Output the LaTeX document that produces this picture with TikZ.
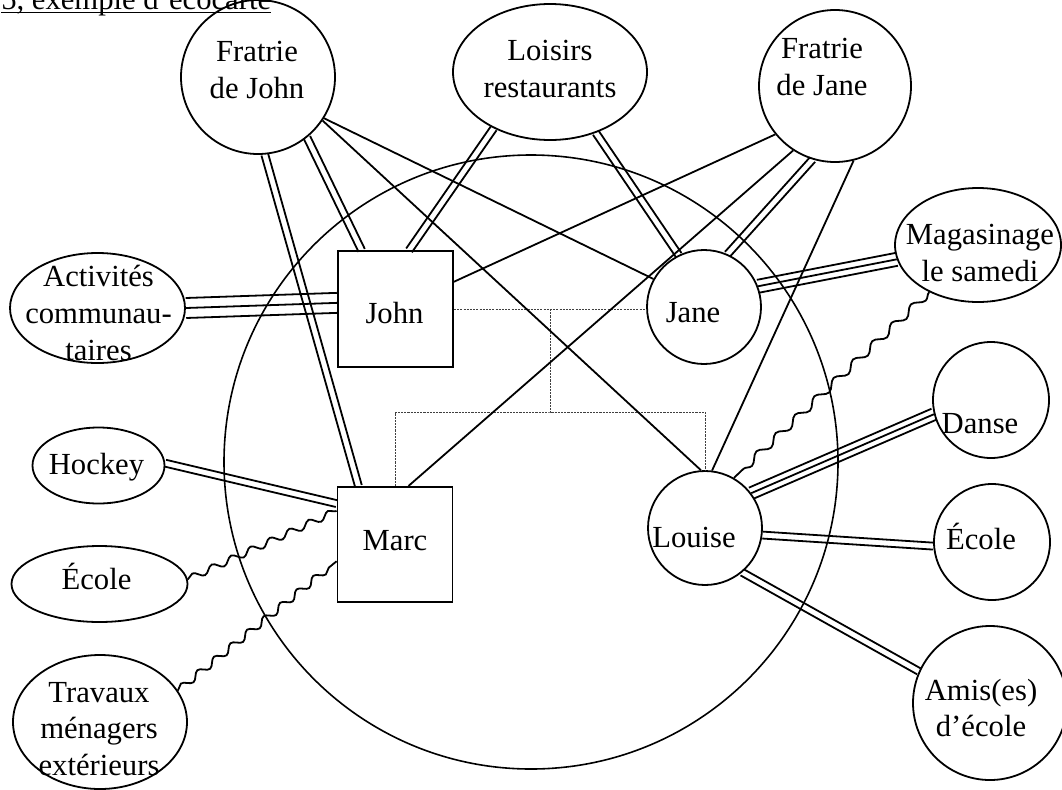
\documentclass[tikz,border=0pt]{standalone}
\usepackage{fontspec}
\setmainfont{Liberation Serif}
\usetikzlibrary{shapes.geometric,calc,decorations.pathmorphing}

% title underline sitting just below the baseline
\newcommand\lowunderline[1]{\setbox0\hbox{#1}\rlap{\rule[-3pt]{\wd0}{0.9pt}}\box0}

% two parallel strokes between two border points; #1 = half spacing
\newcommand\tiepair[3][2.6pt]{%
  \path (#2) -- (#3) coordinate[pos=0] (tieS) coordinate[pos=1] (tieT);
  \draw[tieline] ($(tieS)!#1!90:(tieT)$) -- ($(tieT)!#1!-90:(tieS)$)
                 ($(tieS)!#1!-90:(tieT)$) -- ($(tieT)!#1!90:(tieS)$);
}
% three parallel strokes; #1 = spacing between neighbours
\newcommand\tietriple[3][5pt]{%
  \path (#2) -- (#3) coordinate[pos=0] (tieS) coordinate[pos=1] (tieT);
  \draw[tieline] (tieS) -- (tieT)
                 ($(tieS)!#1!90:(tieT)$) -- ($(tieT)!#1!-90:(tieS)$)
                 ($(tieS)!#1!-90:(tieT)$) -- ($(tieT)!#1!90:(tieS)$);
}

\tikzset{
  every node/.style={font=\fontsize{23}{27.5}\selectfont},
  tieline/.style={line width=1.35pt},
  member/.style={draw, line width=1.35pt, inner sep=0pt},
  personbox/.style={member, rectangle, minimum width=86.25pt, minimum height=86.5pt},
  ringnode/.style={member, circle},
  ovalnode/.style={member, ellipse},
  txtlbl/.style={align=center, inner sep=0pt},
  wavytie/.style={tieline, decorate, decoration={snake, amplitude=2.6pt, segment length=16pt}},
  kinline/.style={line width=0.75pt, dash pattern=on 1.6pt off 0.8pt, black!75},
}

\begin{document}
\begin{tikzpicture}[x=0.75pt, y=-0.75pt]
\useasboundingbox (0,0) rectangle (1062,789);
\fill[white] (0,0) rectangle (1062,789);
\clip (0,0) rectangle (1062,789);

% heading
\node[anchor=base west, inner sep=0pt] (title) at (1,9) {\lowunderline{5, exemple d’écocarte}};

% household
\node[ringnode, line width=1.2pt, minimum size=460.5pt] (home) at (531,462) {};

% people and resources
\node[ringnode, minimum size=115.5pt,
      label={[txtlbl, shift={(-1,-7)}]center:{Fratrie\\de John}}] (fjohn) at (258,77) {};
\node[ovalnode, minimum width=145.5pt, minimum height=102pt,
      label={[txtlbl, shift={(0,-3)}]center:{Loisirs\\restaurants}}] (leisure) at (550,72) {};
\node[ringnode, minimum size=114pt,
      label={[txtlbl, shift={(-13,-19)}]center:{Fratrie\\de Jane}}] (fjane) at (835,86) {};
\node[ovalnode, minimum width=131.25pt, minimum height=82.5pt,
      label={[txtlbl, shift={(1,5)}]center:{Activités\\communau-\\taires}}] (commu) at (97.5,308) {};
\node[personbox,
      label={[txtlbl, shift={(-1,4)}]center:John}] (john) at (395.5,309) {};
\node[ringnode, minimum size=85.5pt,
      label={[txtlbl, shift={(-11,6)}]center:Jane}] (jane) at (704,307) {};
\node[ovalnode, minimum width=124.5pt, minimum height=85.5pt,
      label={[txtlbl, shift={(2,8)}]center:{Magasinage\\le samedi}}] (shop) at (978,245) {};
\node[ringnode, minimum size=87pt,
      label={[txtlbl, shift={(-11,24)}]center:Danse}] (dance) at (991,400) {};
\node[ovalnode, minimum width=99pt, minimum height=57pt,
      label={[txtlbl, shift={(-2,2)}]center:Hockey}] (hockey) at (98.5,465.5) {};
\node[personbox,
      label={[txtlbl, shift={(0,-4)}]center:Marc}] (marc) at (395,544.5) {};
\node[ringnode, minimum size=85.5pt,
      label={[txtlbl, shift={(-11,9)}]center:Louise}] (louise) at (705,528) {};
\node[ringnode, minimum size=87pt,
      label={[txtlbl, shift={(-11,-6)}]center:École}] (school) at (992,542) {};
\node[ovalnode, minimum width=132pt, minimum height=57pt,
      label={[txtlbl, shift={(-3,-8)}]center:École}] (mschool) at (99.5,584) {};
\node[ovalnode, minimum width=130.5pt, minimum height=100.5pt,
      label={[txtlbl, shift={(-1,7)}]center:{Travaux\\ménagers\\extérieurs}}] (chores) at (100,722) {};
\node[ringnode, minimum size=115.5pt,
      label={[txtlbl, shift={(-9,5)}]center:{Amis(es)\\d’école}}] (friends) at (990,703) {};

% kinship lines
\draw[kinline] (john.east) -- coordinate[midway] (wed) (john.east -| jane.west);
\coordinate (kids) at ($(wed)+(0,103)$);
\draw[kinline] (wed) -- (kids);
\draw[kinline] (marc.north) |- (kids) -| (louise.north);

% ties of John's siblings
\tiepair{fjohn.-51.6}{john.120}
\tiepair{fjohn.-85.5}{marc.122.8}
\draw[tieline] (fjohn.-32) -- (jane.151.8);
\draw[tieline] (fjohn.-34) -- (louise.94.8);

% leisure
\tiepair{leisure.-135.5}{john.77.8}
\tiepair{leisure.-53.6}{jane.116.1}

% ties of Jane's siblings
\draw[tieline] (fjane.-141.9) -- (john.25.2);
\draw[tieline] (fjane.-123.3) -- (marc.77.5);
\tiepair{fjane.-107.3}{jane.66.4}
\draw[tieline] (fjane.-76.7) -- (louise.83.1);

% parents' activities
\tietriple[7.5pt]{commu.0}{john.174}
\tietriple[4.9pt]{jane.21.6}{shop.-170.2}

% Marc
\tiepair{hockey.2.1}{marc.145.3}
\draw[wavytie] (mschool.3.9) -- (marc.150.3);
\draw[wavytie] (chores.22.6) -- (marc.-164.8);

% Louise
\draw[wavytie, decoration={segment length=20pt, amplitude=2.8pt}] (shop.-136.7) -- (louise.60.8);
\tietriple[4.5pt]{louise.37.5}{dance.-166.9}
\tiepair[2.6pt]{louise.-7.9}{school.-176}
\tiepair{louise.-50.2}{friends.156.8}
\end{tikzpicture}
\end{document}
